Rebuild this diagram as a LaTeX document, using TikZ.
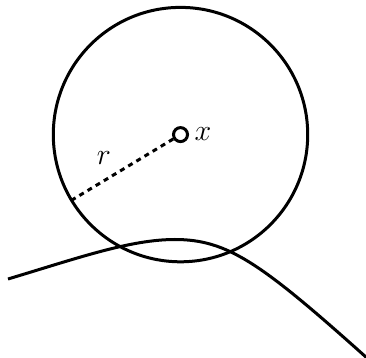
\documentclass[tikz,border=0pt]{standalone}
\usetikzlibrary{calc}
\begin{document}
\begin{tikzpicture}[x=0.4pt,y=-0.4pt,
  mainline/.style={line width=1.2pt},
  ctr/.style={circle,draw,fill=white,line width=1.2pt,minimum size=5.6pt,inner sep=0pt},
  radline/.style={line width=1.2pt,dash pattern=on 2pt off 1.8pt},
  lbl/.style={inner sep=0pt,font=\fontsize{11.5}{13}\selectfont}]
\useasboundingbox (0,0) rectangle (366,358);
\coordinate (c0) at (180.5,134.6);
\draw[mainline] (c0) circle[radius=127.2];
\coordinate (p) at (72,200);
\node[ctr] (c) at (c0) {};
\draw[radline] (c) -- (p);
\node[lbl] (xl) at (203,134) {$x$};
\node[lbl] (rl) at (104,158) {$r$};
\coordinate (s) at (8,279);
\coordinate (m) at (175,239.5);
\coordinate (e) at (367,358);
\draw[mainline] (s) .. controls (78,258) and (130,239.5) .. (m)
  .. controls (228,239.5) and (262,264) .. (e);
\end{tikzpicture}
\end{document}
